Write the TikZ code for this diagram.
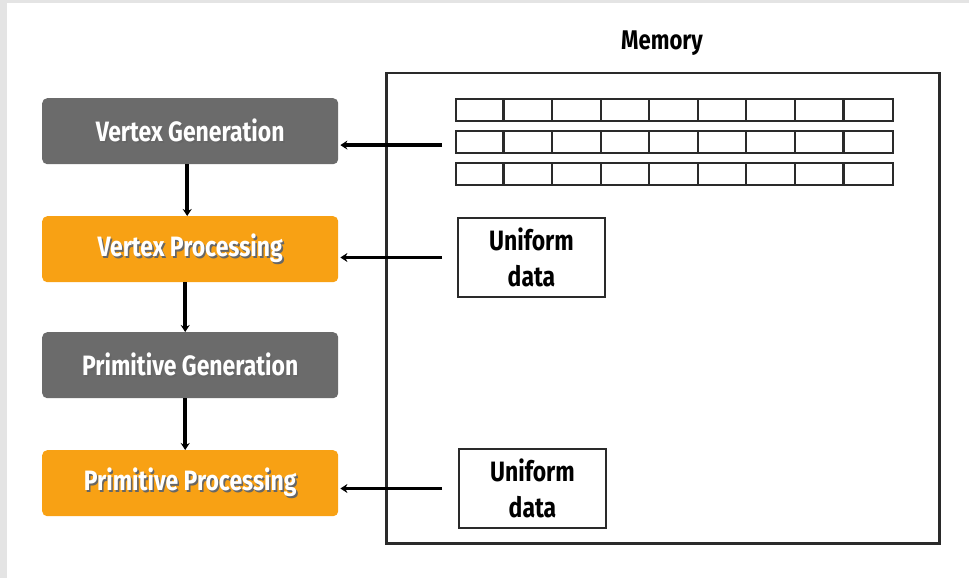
\documentclass[tikz,border=0pt]{standalone}
\usepackage{fontspec}
\setmainfont[FakeStretch=0.82]{Fira Sans}
\usetikzlibrary{arrows.meta}
\definecolor{stagegray}{HTML}{6B6B6B}
\definecolor{stageorange}{HTML}{F8A114}
\definecolor{framegray}{HTML}{E4E4E4}
\definecolor{inkline}{HTML}{2A2A2A}
% white label with a soft dark drop shadow
\newcommand\shadowed[1]{\makebox[0pt][l]{\hspace*{1.6pt}\raisebox{-1.6pt}{\color{black!60}#1}}{\color{white}#1}}

\begin{document}
\begin{tikzpicture}[x=1pt,y=-1pt,
  stage/.style={rounded corners=5pt, minimum width=296pt, minimum height=66pt,
    inner sep=0pt, anchor=north west, font=\bfseries\fontsize{28}{32}\selectfont},
  graystage/.style={stage, fill=stagegray},
  orangestage/.style={stage, fill=stageorange},
  memrow/.style={draw=inkline, line width=2.2pt, minimum width=437pt, minimum height=22pt,
    inner sep=0pt, anchor=north west},
  uniformbox/.style={draw=inkline, line width=2pt, minimum width=147pt, minimum height=79pt,
    inner sep=0pt, anchor=north west, align=center,
    font=\bfseries\fontsize{28}{36}\selectfont},
  flow/.style={line width=3.5pt, -{Stealth[length=7pt,width=9pt]}},
]
\useasboundingbox (0,0) rectangle (969,578);
% thin grey frame along the top and left edges
\fill[framegray] (0,0) rectangle (969,3);
\fill[framegray] (0,0) rectangle (7,578);

% memory region
\node[draw=inkline, line width=2.5pt, minimum width=553pt, minimum height=470pt,
  inner sep=0pt, anchor=north west] (memory) at (385,72) {};
\node[font=\bfseries\fontsize{27}{30}\selectfont] (memlabel) at (662,43) {Memory};

% vertex buffer rows
\foreach \r/\y in {1/98, 2/130, 3/162} {
  \node[memrow] (row\r) at (455,\y) {};
  \foreach \k in {1,...,8}
    \draw[inkline, line width=2.2pt] ([xshift=\k*48.56pt]row\r.north west) -- ([xshift=\k*48.56pt]row\r.south west);
}

% uniform data blocks
\node[uniformbox] (uni1) at (457,217) {Uniform\\data};
\node[uniformbox] (uni2) at (458,448) {Uniform\\data};

% pipeline stages
\node[graystage]   (vg) at (42,98)  {\shadowed{Vertex Generation}};
\node[orangestage] (vp) at (42,216) {\shadowed{Vertex Processing}};
\node[graystage]   (pg) at (42,332) {\shadowed{Primitive Generation}};
\node[orangestage] (pp) at (42,450) {\shadowed{Primitive Processing}};

% stage-to-stage flow
\draw[flow] ([xshift=-3pt]vg.south) -- ([xshift=-3pt]vp.north);
\draw[flow] ([xshift=-5pt]vp.south) -- ([xshift=-5pt]pg.north);
\draw[flow] ([xshift=-5pt]pg.south) -- ([xshift=-5pt]pp.north);

% memory reads
\draw[flow, shorten <=13pt, shorten >=2pt] ([yshift=-3pt]row2.west) -- ([yshift=-3pt]row2.west -| vg.east);
\draw[flow, shorten <=15pt, shorten >=2pt] (uni1.west) -- (uni1.west -| vp.east);
\draw[flow, shorten <=16pt, shorten >=2pt] (uni2.west) -- (uni2.west -| pp.east);
\end{tikzpicture}
\end{document}
